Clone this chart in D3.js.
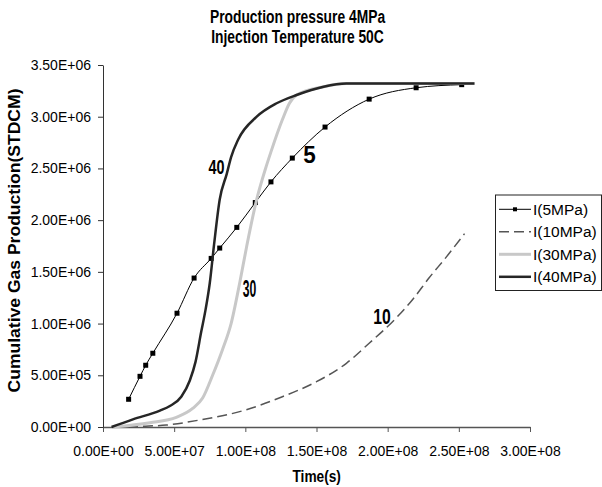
<!DOCTYPE html>
<html>
<head>
<meta charset="utf-8">
<script src="https://cdn.jsdelivr.net/npm/d3@7"></script>
<style>
body { margin: 0; background: #fff; }
text { font-family: "Liberation Sans", Arial, sans-serif; fill: #000; }
</style>
</head>
<body>
<svg id="chart"></svg>
<script>
// 時間(s)と累積ガス生産量(STDCM) : 系列ごと
var t5  = [1.8e7, 2.6e7, 3.0e7, 3.5e7, 5.2e7, 6.4e7, 7.6e7, 8.2e7, 9.4e7, 1.07e8, 1.18e8, 1.33e8, 1.56e8, 1.87e8, 2.2e8, 2.52e8];
var g5  = [2.68e5, 4.9e5, 5.97e5, 7.13e5, 1.10e6, 1.44e6, 1.63e6, 1.73e6, 1.93e6, 2.17e6, 2.37e6, 2.60e6, 2.90e6, 3.17e6, 3.28e6, 3.31e6];

var t10 = [7e6, 3.0e7, 4.45e7, 6.8e7, 1.0e8, 1.26e8, 1.5e8, 1.71e8, 1.87e8, 2.05e8, 2.18e8, 2.29e8, 2.41e8, 2.54e8];
var g10 = [0, 0.08e5, 0.19e5, 0.68e5, 1.64e5, 2.93e5, 4.38e5, 6.16e5, 8.1e5, 10.4e5, 12.4e5, 14.4e5, 16.4e5, 18.7e5];

var t30 = [7e6, 3.3e7, 5.15e7, 6.3e7, 7.0e7, 7.7e7, 8.4e7, 9.0e7, 9.6e7, 1.01e8, 1.08e8, 1.14e8, 1.18e8, 1.26e8, 1.31e8, 1.36e8, 1.55e8, 1.71e8, 2.0e8, 2.61e8];
var g30 = [0, 0.42e5, 0.94e5, 1.8e5, 2.8e5, 5.0e5, 7.5e5, 10.0e5, 13.9e5, 17.5e5, 22.0e5, 24.9e5, 26.6e5, 29.7e5, 31.3e5, 32.1e5, 32.9e5, 33.2e5, 33.2e5, 33.2e5];

var t40 = [6e6, 2.1e7, 4.0e7, 4.7e7, 5.5e7, 6.1e7, 6.5e7, 6.9e7, 7.2e7, 7.5e7, 7.8e7, 8.2e7, 8.7e7, 9.0e7, 9.5e7, 1.08e8, 1.22e8, 1.36e8, 1.55e8, 1.71e8, 2.0e8, 2.61e8];
var g40 = [0, 0.74e5, 1.58e5, 2.03e5, 2.93e5, 4.5e5, 6.3e5, 9.2e5, 11.3e5, 13.9e5, 17.6e5, 22.0e5, 24.5e5, 26.1e5, 27.8e5, 30.0e5, 31.3e5, 32.1e5, 32.9e5, 33.2e5, 33.2e5, 33.2e5];

var seriesNames = ["I(5MPa)", "I(10MPa)", "I(30MPa)", "I(40MPa)"];
var xTicks = [0, 5e7, 1e8, 1.5e8, 2e8, 2.5e8, 3e8];
var yTicks = [0, 5e5, 1e6, 1.5e6, 2e6, 2.5e6, 3e6, 3.5e6];
var titleLines = ["Production pressure 4MPa", "Injection Temperature 50C"];

// SVGの描画サイズとマージン
var margin = {top: 65, right: 72, bottom: 60, left: 103};
var width = 602 - margin.left - margin.right;
var height = 487 - margin.top - margin.bottom;

var root = d3.select("#chart").attr("width", 602).attr("height", 487);
var svg = root.append("g")
  .attr("transform", "translate(" + margin.left + "," + margin.top + ")");

var xScale = d3.scaleLinear().domain([0, 3e8]).range([0, width]);
var yScale = d3.scaleLinear().domain([0, 3.5e6]).range([height, 0]);

// 0.00E+00 形式
function sci(d) {
  if (d === 0) return "0.00E+00";
  var e = Math.floor(Math.log10(d));
  var m = d / Math.pow(10, e);
  return m.toFixed(2) + "E+" + (e < 10 ? "0" : "") + e;
}

// 横方向に文字を縮める
function squeeze(sel, k) {
  sel.each(function() {
    var w = this.getComputedTextLength();
    d3.select(this).attr("textLength", w * k).attr("lengthAdjust", "spacingAndGlyphs");
  });
}

function pts(t, g) { return t.map(function(d, i) { return [d, g[i]]; }); }

var line = d3.line()
  .x(function(d) { return xScale(d[0]); })
  .y(function(d) { return yScale(d[1]); })
  .curve(d3.curveMonotoneX);

// x軸
var xAxis = svg.append("g")
  .attr("transform", "translate(0," + height + ")")
  .call(d3.axisBottom(xScale).tickValues(xTicks).tickFormat(sci).tickSize(5).tickSizeOuter(0));
xAxis.select(".domain").attr("stroke", "#555").attr("stroke-width", 1.5);
xAxis.selectAll(".tick line").attr("stroke", "#555");
xAxis.selectAll("text").attr("font-size", "14px").attr("font-family", null).attr("y", 16).attr("dy", "0.9em").attr("fill", "#000");

// y軸
var yAxis = svg.append("g")
  .call(d3.axisLeft(yScale).tickValues(yTicks).tickFormat(sci).tickSize(5).tickSizeOuter(0));
yAxis.select(".domain").attr("stroke", "#333");
yAxis.selectAll(".tick line").attr("stroke", "#333");
yAxis.selectAll("text").attr("font-size", "14px").attr("font-family", null).attr("x", -12).attr("fill", "#000");

// 系列
var data5 = pts(t5, g5), data10 = pts(t10, g10), data30 = pts(t30, g30), data40 = pts(t40, g40);

svg.append("path").attr("d", line(data5))
  .attr("fill", "none").attr("stroke", "#000").attr("stroke-width", 1);
svg.selectAll(".m5").data(data5).enter().append("rect")
  .attr("class", "m5")
  .attr("x", function(d) { return xScale(d[0]) - 2.5; })
  .attr("y", function(d) { return yScale(d[1]) - 2.5; })
  .attr("width", 5).attr("height", 5).attr("fill", "#000");

svg.append("path").attr("d", line(data10))
  .attr("fill", "none").attr("stroke", "#555").attr("stroke-width", 1.5)
  .attr("stroke-dasharray", "10,5");

svg.append("path").attr("d", line(data30))
  .attr("fill", "none").attr("stroke", "#c8c8c8").attr("stroke-width", 3);

svg.append("path").attr("d", line(data40))
  .attr("fill", "none").attr("stroke", "#262626").attr("stroke-width", 2.5);

// 曲線ラベル
var labels = [
  {text: "5",  x: 1.45e8, y: 2.55e6, size: 23, w: 12.5},
  {text: "10", x: 1.96e8, y: 1.0e6,  size: 22, w: 17.5},
  {text: "30", x: 1.03e8, y: 1.26e6, size: 23, w: 13.5},
  {text: "40", x: 7.98e7, y: 2.45e6, size: 21, w: 16}
];
svg.selectAll(".clabel").data(labels).enter().append("text")
  .attr("class", "clabel")
  .attr("x", function(d) { return xScale(d.x); })
  .attr("y", function(d) { return yScale(d.y); })
  .attr("text-anchor", "middle")
  .attr("font-weight", "bold")
  .attr("font-size", function(d) { return d.size + "px"; })
  .attr("textLength", function(d) { return d.w; })
  .attr("lengthAdjust", "spacingAndGlyphs")
  .text(function(d) { return d.text; });

// タイトル
root.selectAll(".title").data(titleLines).enter().append("text")
  .attr("class", "title")
  .attr("x", 297.5)
  .attr("y", function(d, i) { return 22.7 + i * 20; })
  .attr("text-anchor", "middle")
  .attr("font-weight", "bold")
  .attr("font-size", "17.5px")
  .text(function(d) { return d; })
  .call(squeeze, 0.79);

// 軸タイトル
root.append("text")
  .attr("transform", "translate(20,240.5) rotate(-90)")
  .attr("text-anchor", "middle")
  .attr("font-weight", "bold")
  .attr("font-size", "16.5px")
  .attr("textLength", 304)
  .attr("lengthAdjust", "spacingAndGlyphs")
  .text("Cumulative Gas Production(STDCM)");

root.append("text")
  .attr("x", 316.7).attr("y", 481.7)
  .attr("text-anchor", "middle")
  .attr("font-weight", "bold")
  .attr("font-size", "16.5px")
  .text("Time(s)")
  .call(squeeze, 0.83);

// 凡例
var legend = root.append("g").attr("transform", "translate(495.5,195)");
legend.append("rect").attr("width", 106).attr("height", 95.5)
  .attr("fill", "#fff").attr("stroke", "#222").attr("stroke-width", 1);
var styles = [
  {stroke: "#000", w: 1, dash: null},
  {stroke: "#555", w: 1.5, dash: "10,5"},
  {stroke: "#c8c8c8", w: 3, dash: null},
  {stroke: "#262626", w: 2.5, dash: null}
];
var rows = legend.selectAll(".row").data(seriesNames).enter().append("g")
  .attr("transform", function(d, i) { return "translate(0," + (14.3 + i * 22.5) + ")"; });
rows.append("line").attr("x1", 3.5).attr("x2", 35.5)
  .attr("stroke", function(d, i) { return styles[i].stroke; })
  .attr("stroke-width", function(d, i) { return styles[i].w; })
  .attr("stroke-dasharray", function(d, i) { return styles[i].dash; });
rows.filter(function(d, i) { return i === 0; }).append("rect")
  .attr("x", 17.5).attr("y", -2).attr("width", 4).attr("height", 4).attr("fill", "#000");
rows.append("text").attr("x", 37.5).attr("y", 5.5)
  .attr("font-size", "15.5px")
  .text(function(d) { return d; });
</script>
</body>
</html>
